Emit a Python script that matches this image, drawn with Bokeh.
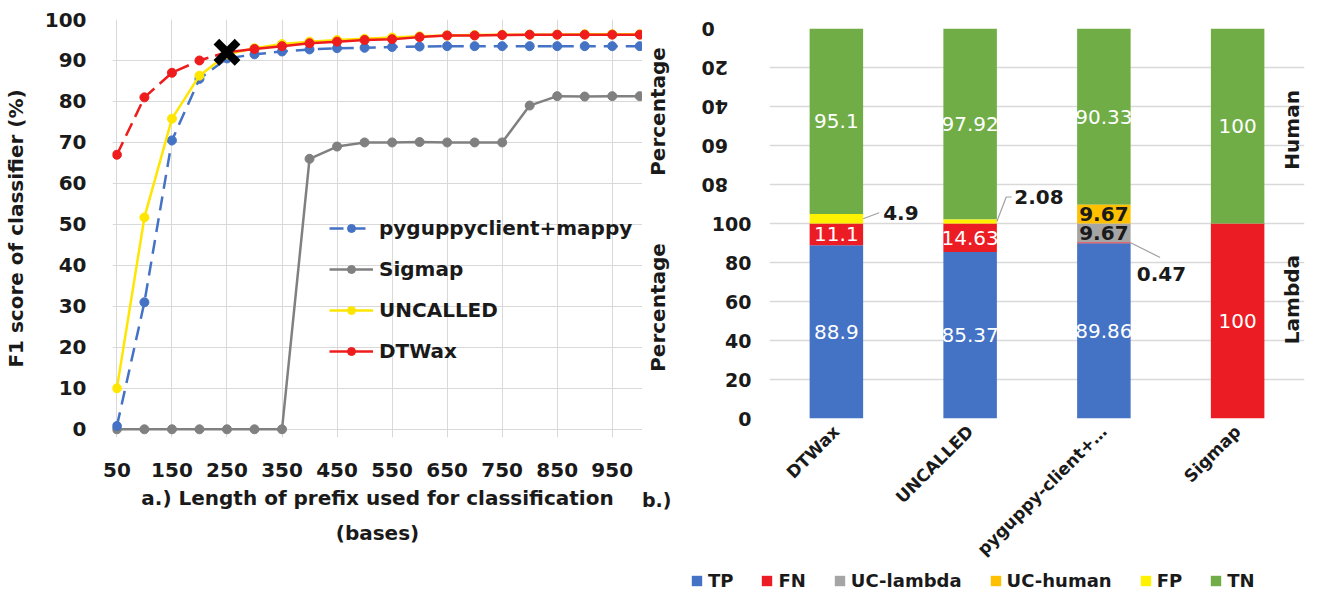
import math
from bokeh.plotting import figure
from bokeh.models import (Range1d, FixedTicker, Legend, LegendItem, Title, LinearAxis,
                          ColumnDataSource)
from bokeh.layouts import row, column
from bokeh.embed import file_html
from bokeh.resources import INLINE
from bokeh.core.properties import value

FONT = "DejaVu Sans"
TXT = "#1a1a1a"

# ---------------- panel a data ----------------
prefix_len = [50, 100, 150, 200, 250, 300, 350, 400, 450, 500,
              550, 600, 650, 700, 750, 800, 850, 900, 950, 1000]
x_tick_labels = [50, 150, 250, 350, 450, 550, 650, 750, 850, 950]
y_ticks_a = [0, 10, 20, 30, 40, 50, 60, 70, 80, 90, 100]
f1_pyguppy = [0.8, 31, 70.5, 85.5, 90.5, 91.5, 92.2, 92.7, 93.0, 93.1,
              93.3, 93.4, 93.5, 93.5, 93.5, 93.5, 93.5, 93.5, 93.5, 93.5]
f1_sigmap = [0, 0, 0, 0, 0, 0, 0, 66, 69, 70,
             70, 70.1, 70, 70, 70, 79, 81.3, 81.2, 81.3, 81.3]
f1_uncalled = [10, 51.7, 75.8, 86.3, 91.5, 93.0, 94.0, 94.6, 95.0, 95.3,
               95.6, 95.9, 96.1, 96.2, 96.3, 96.3, 96.3, 96.4, 96.4, 96.4]
f1_dtwax = [67, 81, 87, 90, 92, 92.8, 93.5, 94.2, 94.6, 95.0,
            95.2, 95.7, 96.1, 96.1, 96.2, 96.3, 96.3, 96.3, 96.3, 96.3]
best_len = [250]
best_f1 = [92]

# ---------------- panel b data ----------------
tools = ["DTWax", "UNCALLED", "pyguppy-client+…", "Sigmap"]
TP = [88.9, 85.37, 89.86, 0]
FN = [11.1, 14.63, 0.47, 100]
UC_lambda = [0, 0, 9.67, 0]
UC_human = [0, 0, 9.67, 0]
FP = [4.9, 2.08, 0, 0]
TN = [95.1, 97.92, 90.33, 100]
pct_ticks = [0, 20, 40, 60, 80, 100]
segment_names = ["TP", "FN", "UC-lambda", "UC-human", "FP", "TN"]

BLUE = "#4472C4"
GRAY = "#808080"
YEL = "#FFE600"
RED = "#EE1C1C"
C_TP, C_FN, C_UCL, C_UCH, C_FP, C_TN = "#4472C4", "#EC1C24", "#A5A5A5", "#FFC000", "#FFF200", "#70AD47"
seg_colors = [C_TP, C_FN, C_UCL, C_UCH, C_FP, C_TN]


def style_axis(ax, size="20px"):
    ax.axis_line_color = None
    ax.major_tick_line_color = None
    ax.minor_tick_line_color = None
    ax.major_label_text_font = FONT
    ax.major_label_text_font_size = size
    ax.major_label_text_font_style = "bold"
    ax.major_label_text_color = TXT
    ax.axis_label_text_font = FONT
    ax.axis_label_text_font_size = "20px"
    ax.axis_label_text_font_style = "bold"
    ax.axis_label_text_color = TXT


# ================= panel a =================
pa = figure(width=642, height=599, x_range=Range1d(42, 1005), y_range=Range1d(-2, 100),
            output_backend="svg", toolbar_location=None,
            min_border_left=100, min_border_right=0, min_border_top=19, min_border_bottom=162)
pa.outline_line_color = None
pa.xaxis.ticker = FixedTicker(ticks=x_tick_labels)
pa.yaxis.ticker = FixedTicker(ticks=y_ticks_a)
for ax in pa.axis:
    style_axis(ax)
pa.xaxis.major_label_standoff = 19
pa.yaxis.major_label_standoff = 20
pa.xaxis.axis_label = "a.) Length of prefix used for classification"
pa.xaxis.axis_label_standoff = 6
pa.yaxis.axis_label = "F1 score of classifier (%)"
pa.yaxis.axis_label_standoff = 14
pa.add_layout(Title(text="(bases)", align="center", standoff=12, text_font=FONT,
                    text_font_size="20px", text_font_style="bold", text_color=TXT), "below")
pa.grid.grid_line_color = "#D9D9D9"
pa.grid.grid_line_width = 1

src = ColumnDataSource(dict(x=prefix_len, py=f1_pyguppy, sg=f1_sigmap, un=f1_uncalled, dt=f1_dtwax))
src_dt_dash = ColumnDataSource(dict(x=prefix_len[:5], dt=f1_dtwax[:5]))
src_dt_solid = ColumnDataSource(dict(x=prefix_len[4:], dt=f1_dtwax[4:]))

r_sg_l = pa.line("x", "sg", source=src, color=GRAY, line_width=2.5)
r_sg_p = pa.scatter("x", "sg", source=src, size=9, color=GRAY)
r_py_l = pa.line("x", "py", source=src, color=BLUE, line_width=2.5, line_dash="14 8")
r_py_p = pa.scatter("x", "py", source=src, size=9, color=BLUE)
r_un_l = pa.line("x", "un", source=src, color=YEL, line_width=2.5)
r_un_p = pa.scatter("x", "un", source=src, size=9, color=YEL)
r_dt_d = pa.line("x", "dt", source=src_dt_dash, color=RED, line_width=2.5, line_dash="14 7")
r_dt_l = pa.line("x", "dt", source=src_dt_solid, color=RED, line_width=2.5)
r_dt_p = pa.scatter("x", "dt", source=src, size=9, color=RED)
pa.scatter(best_len, best_f1, marker="x", size=30, line_width=8, color="black")

leg_a = Legend(items=[
    LegendItem(label="pyguppyclient+mappy", renderers=[r_py_l, r_py_p]),
    LegendItem(label="Sigmap", renderers=[r_sg_l, r_sg_p]),
    LegendItem(label="UNCALLED", renderers=[r_un_l, r_un_p]),
    LegendItem(label="DTWax", renderers=[r_dt_l, r_dt_p]),
], location=(217, 74), orientation="vertical", glyph_width=44, glyph_height=20,
    label_height=24, label_standoff=6, spacing=17, padding=0, margin=0,
    background_fill_alpha=0, border_line_alpha=0,
    label_text_font=FONT, label_text_font_size="20px", label_text_font_style="bold",
    label_text_color=TXT)
pa.add_layout(leg_a)

# ================= narrow gutter holding panel-b side titles =================
# its coordinates are page pixels (x to the right, y downwards)
pg = figure(width=30, height=591, x_range=Range1d(650, 680), y_range=Range1d(start=592, end=1),
            output_backend="svg", toolbar_location=None,
            x_axis_location=None, y_axis_location=None,
            min_border_left=0, min_border_right=0, min_border_top=0, min_border_bottom=0)
pg.grid.visible = False
pg.outline_line_color = None
gut = dict(x=[665, 665], y=[112, 308], t=["Percentage", "Percentage"])
pg.text(x="x", y="y", text="t", source=ColumnDataSource(gut), angle=math.pi / 2,
        text_align="center", text_baseline="middle", text_font=value(FONT),
        text_font_size="20px", text_font_style="bold", text_color=TXT)
pg.text(x=[679], y=[500], text=["b.)"], text_align="right", text_baseline="middle",
        text_font=value(FONT), text_font_size="19px", text_font_style="bold", text_color=TXT)

# ================= panel b =================
pb = figure(width=634, height=569, x_range=tools, y_range=Range1d(0, 200),
            output_backend="svg", toolbar_location=None,
            min_border_left=88, min_border_right=2, min_border_top=28, min_border_bottom=150)
pb.extra_y_ranges = {"human": Range1d(start=200, end=0)}
pb.outline_line_color = None
pb.yaxis.ticker = FixedTicker(ticks=pct_ticks)
style_axis(pb.yaxis[0], "19px")
style_axis(pb.xaxis[0], "17px")
pb.yaxis.major_label_standoff = 12
pb.xaxis.major_label_orientation = math.pi / 4
pb.xaxis.major_label_standoff = 4

hax = LinearAxis(y_range_name="human", ticker=FixedTicker(ticks=pct_ticks[:-1]))
style_axis(hax, "19px")
hax.major_label_orientation = math.pi
hax.major_label_standoff = 1
pb.add_layout(hax, "left")

pb.xgrid.visible = False
pb.ygrid.ticker = FixedTicker(ticks=sorted(set(pct_ticks + [200 - t for t in pct_ticks])))
pb.ygrid.grid_line_color = "#D9D9D9"
pb.ygrid.grid_line_width = 1.5

srcb = ColumnDataSource(dict(tool=tools, TP=TP, FN=FN, UC_lambda=UC_lambda,
                             UC_human=UC_human, FP=FP, TN=TN))
lam_r = pb.vbar_stack(["TP", "FN", "UC_lambda"], x="tool", width=0.4, source=srcb,
                      color=[C_TP, C_FN, C_UCL], line_color=None)
hum_r = pb.vbar_stack(["TN", "UC_human", "FP"], x="tool", width=0.4, source=srcb,
                      color=[C_TN, C_UCH, C_FP], line_color=None, y_range_name="human")

# in-bar value labels
wl = dict(x=[], y=[], t=[])
bl = dict(x=[], y=[], t=[])
wh = dict(x=[], y=[], t=[])
bh = dict(x=[], y=[], t=[])
for i, tool in enumerate(tools):
    cum = 0
    for vals, dark in [(TP, False), (FN, False), (UC_lambda, True)]:
        v = vals[i]
        if v >= 5:
            d = bl if dark else wl
            d["x"].append(tool); d["y"].append(cum + v / 2); d["t"].append("%g" % v)
        cum += v
    cum = 0
    for vals, dark in [(TN, False), (UC_human, True), (FP, True)]:
        v = vals[i]
        if v >= 5:
            d = bh if dark else wh
            d["x"].append(tool); d["y"].append(cum + v / 2); d["t"].append("%g" % v)
        cum += v

txt_common = dict(text_align="center", text_baseline="middle", text_font=value(FONT))
pb.text(x="x", y="y", text="t", source=ColumnDataSource(wl), text_color="white",
        text_font_size="20px", **txt_common)
pb.text(x="x", y="y", text="t", source=ColumnDataSource(wh), text_color="white",
        text_font_size="20px", y_range_name="human", **txt_common)
pb.text(x="x", y="y", text="t", source=ColumnDataSource(bl), text_color=TXT,
        text_font_size="20px", text_font_style="bold", **txt_common)
pb.text(x="x", y="y", text="t", source=ColumnDataSource(bh), text_color=TXT,
        text_font_size="20px", text_font_style="bold", y_range_name="human", **txt_common)

# callouts for small segments
co_h = dict(x=[(tools[0], 0.35), (tools[1], 0.33)],
            y=[TN[0] - 0.6, TN[1] - 11.5],
            t=["%g" % FP[0], "%g" % FP[1]])
pb.text(x="x", y="y", text="t", source=ColumnDataSource(co_h), text_color=TXT,
        text_font_size="20px", text_font_style="bold", text_align="left",
        text_baseline="middle", text_font=value(FONT), y_range_name="human")
pb.multi_line(xs=[[(tools[0], 0.2), (tools[0], 0.32)],
                  [(tools[1], 0.2), (tools[1], 0.27), (tools[1], 0.31)]],
              ys=[[TN[0] + FP[0] / 2, TN[0] - 0.6],
                  [TN[1] + FP[1] / 2, TN[1] - 11.5, TN[1] - 11.5]],
              line_color="#A0A0A0", line_width=1.2, y_range_name="human")
lam_mid = TP[2] + FN[2] / 2
pb.text(x=[(tools[2], 0.43)], y=[lam_mid - 16], text=["%g" % FN[2]], text_color=TXT,
        text_font_size="20px", text_font_style="bold", text_align="center",
        text_baseline="middle", text_font=value(FONT))
pb.line(x=[(tools[2], 0.2), (tools[2], 0.42)], y=[lam_mid, lam_mid - 7.5],
        line_color="#A0A0A0", line_width=1.2)

# side labels
pb.text(x=[(tools[3], 0.41)], y=[52], text=["Human"], angle=math.pi / 2,
        text_color=TXT, text_font_size="20px", text_font_style="bold",
        y_range_name="human", **txt_common)
pb.text(x=[(tools[3], 0.41)], y=[61], text=["Lambda"], angle=math.pi / 2,
        text_color=TXT, text_font_size="20px", text_font_style="bold", **txt_common)

# ================= legend strip for panel b =================
pleg = figure(width=634, height=22, x_range=Range1d(0, 1), y_range=Range1d(0, 1),
              output_backend="svg", toolbar_location=None,
              x_axis_location=None, y_axis_location=None,
              min_border_left=0, min_border_right=0, min_border_top=0, min_border_bottom=0)
pleg.grid.visible = False
pleg.outline_line_color = None
leg_items = []
for name, col in zip(segment_names, seg_colors):
    # swatch carriers placed below the visible range: only the legend swatch shows
    r = pleg.vbar(x=[0.5], bottom=[-2], top=[-1], width=0.1, color=col, line_color=None)
    leg_items.append(LegendItem(label=name, renderers=[r]))
leg_b = Legend(items=leg_items, location=(18, 0), orientation="horizontal",
               glyph_width=13, glyph_height=13, label_standoff=5, spacing=27,
               padding=0, margin=0, background_fill_alpha=0, border_line_alpha=0,
               label_text_font=FONT, label_text_font_size="18px",
               label_text_font_style="bold", label_text_color=TXT)
pleg.add_layout(leg_b)

layout = row(pa, column(pg), column(row(pb), pleg))
open("out.html", "w").write(file_html(layout, INLINE))
